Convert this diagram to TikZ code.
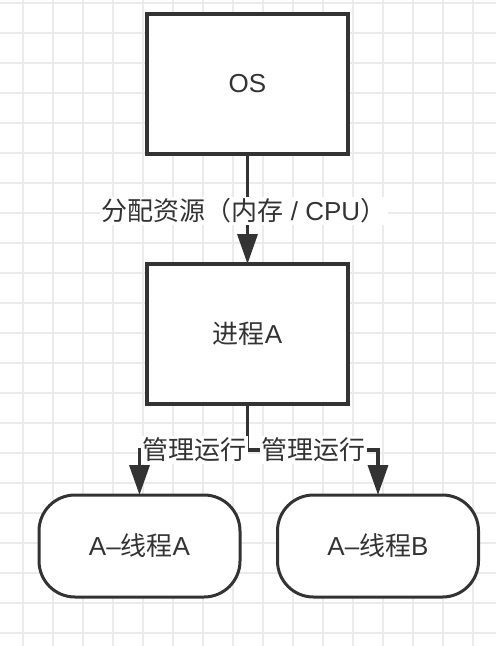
\documentclass[tikz,border=0pt]{standalone}
\usepackage{fontspec}
\setmainfont{Liberation Sans}
\newfontfamily\cjk{Noto Sans CJK SC}
\usetikzlibrary{arrows.meta}
\definecolor{ink}{HTML}{333333}
\definecolor{gridc}{HTML}{EBEBEB}
\begin{document}
\begin{tikzpicture}[x=1pt,y=-1pt,
  txt/.style={text=ink, font=\fontsize{26}{31}\selectfont},
  box/.style={txt, draw=ink, line width=3.5pt, fill=white, minimum width=201pt, minimum height=140pt, inner sep=0pt, outer sep=0pt},
  pill/.style={txt, draw=ink, line width=3pt, fill=white, rounded corners=36pt, minimum width=201pt, minimum height=102pt, inner sep=0pt, outer sep=0pt},
  conn/.style={draw=ink, line width=3.5pt, -{Triangle[length=30pt,width=20pt]}},
  lbl/.style={txt, fill=white, inner sep=1.5pt}]
\useasboundingbox (0,0) rectangle (496,646);
\fill[white] (0,0) rectangle (496,646);
\foreach \gx in {23,53,...,473} \draw[gridc, line width=1.5pt] (\gx,0) -- (\gx,646);
\foreach \gy in {3,33,...,633} \draw[gridc, line width=1.5pt] (0,\gy) -- (496,\gy);

\node[box] (os) at (247.5,84) {OS};
\node[box] (proc) at (247.5,334) {{\cjk 进程}A};
\node[pill] (ta) at (139.5,546) {A–{\cjk 线程}A};
\node[pill] (tb) at (378,546) {A–{\cjk 线程}B};
\coordinate (j) at (247.5,450);

\draw[conn] (os.south) -- (proc.north);
\draw[conn] (proc.south) -- (j) -| (ta.north);
\draw[conn] (proc.south) -- (j) -| (tb.north);

\node[lbl] (l1) at (244,211) {{\cjk 分配资源（内存} / CPU{\cjk ）}};
\node[lbl] (l2) at (194,450) {\cjk 管理运行};
\node[lbl] (l3) at (313,450) {\cjk 管理运行};
\end{tikzpicture}
\end{document}
